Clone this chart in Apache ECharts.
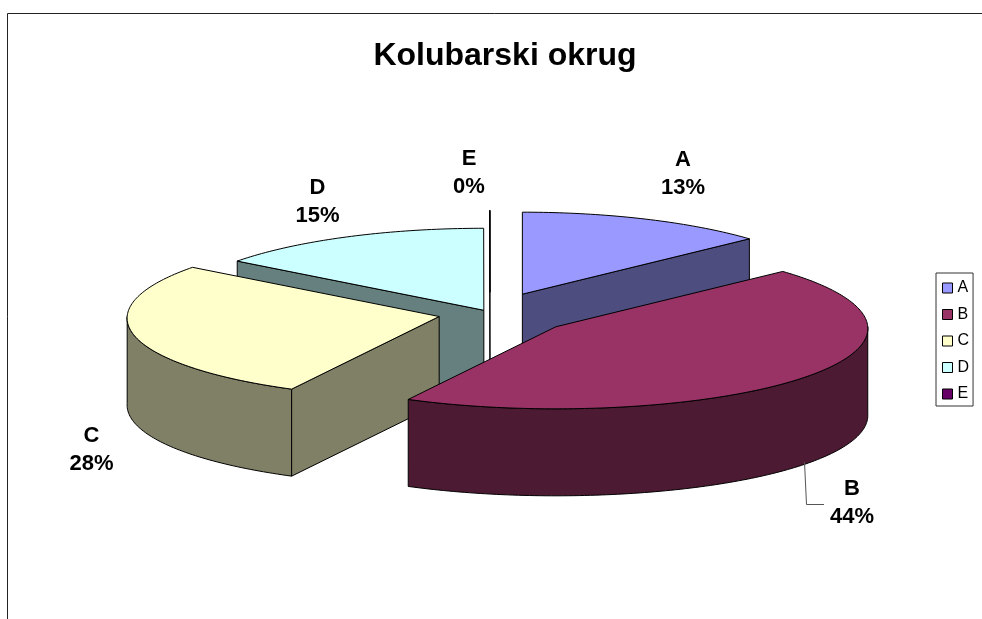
<!DOCTYPE html>
<html>
<head>
<meta charset="utf-8">
<title>Kolubarski okrug</title>
<style>
  html, body { margin: 0; padding: 0; background: #fff; }
  #chart { width: 982px; height: 619px; }
</style>
<script src="https://cdn.jsdelivr.net/npm/echarts@6/dist/echarts.min.js"></script>
</head>
<body>
<div id="chart"></div>
<script>
// data
const names = ['A', 'B', 'C', 'D', 'E'];
const values = [13.2, 44.49, 27.55, 14.75, 0.01];

// style
const topColors = ['#9999FF', '#993366', '#FFFFCC', '#CCFFFF', '#660066'];
const wallColors = ['#4D4D80', '#4D1A33', '#808066', '#668080', '#330033'];
const explode = [0.2575, 0.266, 0.167, 0.044, 0.2575]; // slices were dragged out by different amounts
const labelPos = [[683, 174], [852, 503], [91.5, 450], [317.5, 202], [469, 173]];
const drawOrder = [0, 4, 3, 2, 1]; // painted back to front, B is on top of everything

const FONT = '"Liberation Sans", Arial, sans-serif';
const pie = { cx: 490, cy: 313.5, rx: 312, ry: 82, depth: 87, persp: 0.02 };

const total = values.reduce((a, b) => a + b, 0);
const angles = [];
let cum = 0;
values.forEach((v) => {
  const start = (cum / total) * 360;
  cum += v;
  angles.push([start, (cum / total) * 360]);
});

const rad = (deg) => (deg * Math.PI) / 180;

function arcPoints(c, from, to, dy) {
  const pts = [];
  const n = Math.max(1, Math.ceil(Math.abs(to - from)));
  for (let k = 0; k <= n; k++) {
    const a = rad(from + ((to - from) * k) / n);
    // the near side of the pie is drawn slightly wider than the far side
    const rx = pie.rx * (1 - pie.persp * Math.cos(a));
    pts.push([c[0] + rx * Math.sin(a), c[1] - pie.ry * Math.cos(a) + dy]);
  }
  return pts;
}

function renderSlice(i) {
  return function () {
    const [start, end] = angles[i];
    const mid = rad((start + end) / 2);
    const c = [
      pie.cx + explode[i] * pie.rx * Math.sin(mid),
      pie.cy - explode[i] * pie.ry * Math.cos(mid),
    ];
    const line = { stroke: '#000', lineWidth: 1 };
    const children = [];
    const face = (points, fill) =>
      children.push({ type: 'polygon', shape: { points }, style: { fill, ...line } });

    // outer wall, only the part facing the viewer
    const a0 = Math.max(start, 90);
    const a1 = Math.min(end, 270);
    if (a1 > a0) {
      face(arcPoints(c, a0, a1, 0).concat(arcPoints(c, a1, a0, pie.depth)), wallColors[i]);
    }
    // radial walls
    [[start, Math.sin(rad(start)) < 0], [end, Math.sin(rad(end)) > 0]].forEach(([a, visible]) => {
      if (!visible) return;
      const p = arcPoints(c, a, a, 0)[0];
      face([c, p, [p[0], p[1] + pie.depth], [c[0], c[1] + pie.depth]], wallColors[i]);
    });
    // top
    face([c].concat(arcPoints(c, start, end, 0)), topColors[i]);
    return { type: 'group', children };
  };
}

const option = {
  animation: false,
  backgroundColor: '#fff',
  title: {
    text: 'Kolubarski okrug',
    left: 500,
    top: 35,
    textAlign: 'center',
    textStyle: { fontFamily: FONT, fontSize: 32, fontWeight: 'bold', color: '#000' },
  },
  legend: {
    data: names,
    orient: 'vertical',
    left: 936,
    top: 273,
    padding: [7, 4, 4, 6],
    itemWidth: 10,
    itemHeight: 10,
    itemGap: 10.5,
    icon: 'rect',
    borderColor: '#333',
    borderWidth: 1,
    backgroundColor: '#fff',
    itemStyle: { borderColor: '#000', borderWidth: 1 },
    textStyle: { fontFamily: FONT, fontSize: 16, lineHeight: 16, color: '#000' },
    selectedMode: false,
  },
  graphic: [
    // frame of the chart area, it runs off the right and bottom of the picture
    {
      type: 'polyline',
      silent: true,
      shape: { points: [[7.5, 619], [7.5, 13.5], [982, 13.5]] },
      style: { stroke: '#222', lineWidth: 1, fill: null },
    },
    // leader line of B
    {
      type: 'polyline',
      silent: true,
      z: 20,
      shape: { points: [[804.5, 462], [806.5, 504.5], [824, 504.5]] },
      style: { stroke: '#555', lineWidth: 1, fill: null },
    },
  ].concat(
    names.map((name, i) => ({
      type: 'text',
      silent: true,
      z: 20,
      x: labelPos[i][0],
      y: labelPos[i][1],
      style: {
        text: name + '\n' + Math.round((values[i] / total) * 100) + '%',
        fontFamily: FONT,
        fontSize: 22,
        fontWeight: 'bold',
        lineHeight: 28,
        fill: '#000',
        align: 'center',
        verticalAlign: 'middle',
      },
    }))
  ),
  series: names.map((name, i) => ({
    type: 'custom',
    name,
    coordinateSystem: 'none',
    z: 2 + drawOrder.indexOf(i),
    itemStyle: { color: topColors[i] },
    renderItem: renderSlice(i),
    data: [values[i]],
  })),
};

const chart = echarts.init(document.getElementById('chart'));
chart.setOption(option);
</script>
</body>
</html>
